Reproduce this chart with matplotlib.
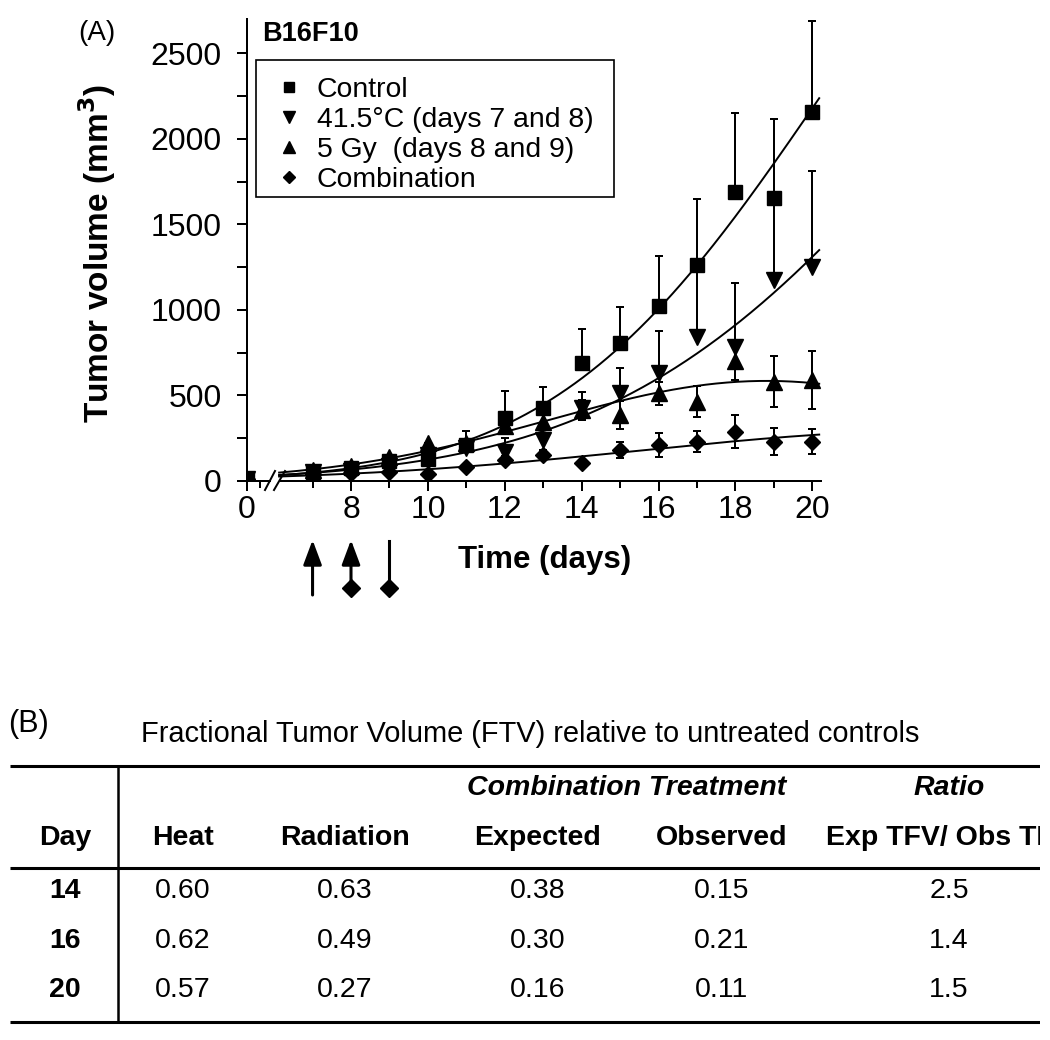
import numpy as np
import matplotlib
matplotlib.use('Agg')
import matplotlib.pyplot as plt
from matplotlib.lines import Line2D
from matplotlib.patches import Rectangle
from matplotlib.transforms import blended_transform_factory

plt.rcParams['font.family'] = ['Liberation Sans', 'DejaVu Sans']

# Panel A: tumour growth
days = [0, 7, 8, 9, 10, 11, 12, 13, 14, 15, 16, 17, 18, 19, 20]
control = [10, 55, 75, 115, 130, 210, 366, 425, 688, 805, 1025, 1262, 1691, 1656, 2158]
control_sd = [0, 0, 0, 0, 0, 82, 160, 123, 200, 212, 292, 386, 462, 458, 532]
heat = [10, 50, 60, 90, 150, 190, 170, 240, 425, 512, 629, 843, 785, 1175, 1253]
heat_sd = [0, 0, 0, 0, 0, 0, 80, 42, 97, 148, 248, 420, 370, 480, 561]
rad = [10, 65, 85, 140, 220, 220, 320, 345, 415, 386, 512, 463, 700, 580, 590]
rad_sd = [0, 0, 0, 0, 0, 0, 40, 40, 60, 82, 65, 90, 110, 150, 168]
combo = [10, 40, 45, 55, 40, 84, 123, 152, 103, 181, 210, 230, 288, 230, 230]
combo_sd = [0, 0, 0, 0, 0, 0, 25, 30, 0, 45, 68, 60, 95, 80, 75]
heat_days = [7, 8]
rad_days = [8, 9]

# Panel B: FTV table
tab_days = [14, 16, 20]
ftv_heat = [0.60, 0.62, 0.57]
ftv_rad = [0.63, 0.49, 0.27]
ftv_expected = [0.38, 0.30, 0.16]
ftv_observed = [0.15, 0.21, 0.11]
ftv_ratio = [2.5, 1.4, 1.5]

W, H = 1050, 1040
fig = plt.figure(figsize=(W / 100, H / 100), dpi=100)

# axis with a break between day 0 and day ~6
ppd = 38.44          # pixels per day
x0 = 8 - 104 / ppd   # where day 0 sits on the broken axis
xmax = 20.22
ymax = 2700
ax = fig.add_axes([247 / W, 1 - 481 / H, (xmax - x0) * ppd / W, 462 / H])
ax.set_xlim(x0, xmax)
ax.set_ylim(0, ymax)

def xpos(d):
    return x0 if d == 0 else d

xs = [xpos(d) for d in days]
zeros = np.zeros(len(days))
lw = 1.44

series = [
    (control, control_sd, 's', 9.4, 'up'),
    (heat, heat_sd, 'v', 11.5, 'up'),
    (rad, rad_sd, '^', 11.5, 'both'),
    (combo, combo_sd, 'D', 8.2, 'both'),
]
tfit = np.linspace(6.13, 20.18, 200)
for vals, sd, mk, ms, side in series:
    yerr = [zeros, sd] if side == 'up' else [sd, sd]
    ax.errorbar(xs, vals, yerr=yerr, fmt=mk, ms=ms, color='k', ecolor='k',
                elinewidth=lw, capsize=3, capthick=lw)
    # growth curve: quadratic fit of log volume
    coef = np.polyfit(days[1:], np.log(vals[1:]), 2)
    ax.plot(tfit, np.exp(np.polyval(coef, tfit)), color='k', lw=1.4)

# ticks
ax.set_xticks([x0, 8, 10, 12, 14, 16, 18, 20])
ax.set_xticklabels(['0', '8', '10', '12', '14', '16', '18', '20'])
ax.set_xticks([x0 + 13 / ppd, 7, 9, 11, 13, 15, 17, 19], minor=True)
ax.set_yticks(range(0, 2501, 500))
ax.set_yticks(range(250, 2500, 500), minor=True)
ax.tick_params(axis='both', which='both', direction='out', width=lw, labelsize=23)
ax.tick_params(axis='y', which='both', length=7.2, pad=11)
ax.tick_params(axis='x', which='major', length=7.2, pad=3)
ax.tick_params(axis='x', which='minor', length=5)

for s in ['top', 'right', 'bottom']:
    ax.spines[s].set_visible(False)
ax.spines['left'].set_linewidth(lw)

# bottom axis line drawn in two pieces with "//"
def px2x(px):
    return x0 + (px - 247) / ppd

def py2y(py):
    return (481 - py) * 2500 / 427.7

ax.plot([x0, px2x(270)], [0, 0], color='k', lw=lw, clip_on=False)
ax.plot([px2x(281), xmax], [0, 0], color='k', lw=lw, clip_on=False)
for a, b in [(265, 275), (274, 285)]:
    ax.plot([px2x(a), px2x(b)], [py2y(490), py2y(471)], color='k', lw=lw, clip_on=False)

ax.set_ylabel('Tumor volume (mm$^\\mathbf{3}$)', fontsize=24, fontweight='bold')
ax.yaxis.set_label_coords(-0.225, 0.491)
ax.set_xlabel('Time (days)', fontsize=22.5, fontweight='bold')
ax.xaxis.label.set_va('center')
ax.xaxis.set_label_coords((545 - 247) / ((xmax - x0) * ppd), (481 - 560) / 462)

# legend: entries without frame, box drawn separately
handles = [Line2D([], [], ls='none', marker=m, ms=s, color='k')
           for m, s in [('s', 7.7), ('v', 9), ('^', 9), ('D', 6.2)]]
labels = ['Control', '41.5\u00b0C (days 7 and 8)', '5 Gy  (days 8 and 9)', 'Combination']
ax.legend(handles, labels, loc='upper left',
          bbox_to_anchor=(256 / W, 1 - 66 / H), bbox_transform=fig.transFigure,
          borderaxespad=0, fontsize=20.4, frameon=False, borderpad=0.4,
          handlelength=1.55, handletextpad=0.2, labelspacing=0.14)
fig.patches.append(Rectangle((256 / W, 1 - 197 / H), 358 / W, 137 / H,
                             transform=fig.transFigure, fill=False, ec='k', lw=1.2))

fig.text(262 / W, 1 - 34 / H, 'B16F10', fontsize=19.5, fontweight='bold', va='center')
fig.text(96.5 / W, 1 - 40 / H, '(A)', fontsize=20, ha='center', va='baseline')

# treatment arrows under the axis
trans = blended_transform_factory(ax.transData, fig.transFigure)
def fy(py):
    return 1 - py / H

for d in sorted(set(heat_days + rad_days)):
    bottom = 588 if d in rad_days else 595
    if d in heat_days:
        ax.annotate('', xy=(d, fy(540)), xytext=(d, fy(bottom)), xycoords=trans,
                    textcoords=trans, annotation_clip=False,
                    arrowprops=dict(arrowstyle='-|>,head_length=0.75,head_width=0.28',
                                    mutation_scale=20, lw=2.2, color='k',
                                    shrinkA=0, shrinkB=0))
    else:
        ax.plot([d, d], [fy(bottom), fy(541)], transform=trans, color='k', lw=2.2,
                clip_on=False)
    if d in rad_days:
        ax.plot([d], [fy(588)], 'D', ms=9, color='k', transform=trans, clip_on=False)

# Panel B table
tax = fig.add_axes([0, 0, 1040 / W, 340 / H])
tax.set_xlim(0, 1040)
tax.set_ylim(1040, 700)
tax.axis('off')

tax.text(8, 731.7, '(B)', fontsize=22, va='baseline')
tax.text(530, 742, 'Fractional Tumor Volume (FTV) relative to untreated controls',
         fontsize=20.9, ha='center', va='baseline')
for y in [765.7, 868.3, 1021.7]:
    tax.plot([10, 1040], [y, y], color='k', lw=2.2, solid_capstyle='butt')
tax.plot([118.3, 118.3], [765.7, 1021.7], color='k', lw=1.8, solid_capstyle='butt')

fs = 20.5
col_x = [65, 183, 344.5, 538, 722, 949]
tax.text(626.5, 795, 'Combination Treatment', fontsize=fs, fontweight='bold',
         fontstyle='italic', ha='center', va='baseline')
tax.text(949, 795, 'Ratio', fontsize=fs, fontweight='bold', fontstyle='italic',
         ha='center', va='baseline')
headers = ['Day', 'Heat', 'Radiation', 'Expected', 'Observed', 'Exp TFV/ Obs TFV']
for x, h in zip(col_x, headers):
    tax.text(x, 845, h, fontsize=fs, fontweight='bold', ha='center', va='baseline',
             clip_on=True)

row_y = [898.5, 947.5, 997]
for i, y in enumerate(row_y):
    tax.text(col_x[0], y, str(tab_days[i]), fontsize=fs, fontweight='bold',
             ha='center', va='baseline')
    cells = [f'{ftv_heat[i]:.2f}', f'{ftv_rad[i]:.2f}', f'{ftv_expected[i]:.2f}',
             f'{ftv_observed[i]:.2f}', f'{ftv_ratio[i]:.1f}']
    for x, c in zip(col_x[1:], cells):
        tax.text(x, y, c, fontsize=fs, ha='center', va='baseline')

fig.savefig('out.png', dpi=100)
